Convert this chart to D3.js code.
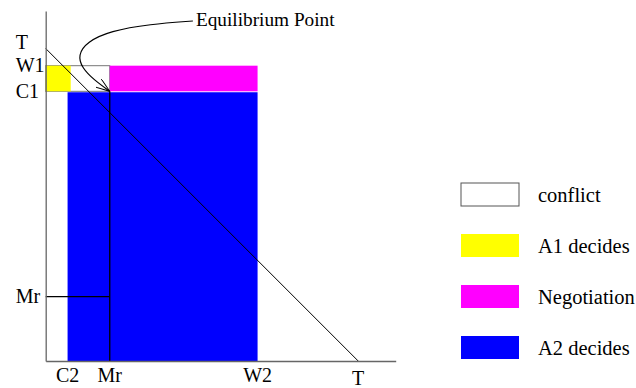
<!DOCTYPE html>
<html><head><meta charset="utf-8"><script src="https://cdn.jsdelivr.net/npm/d3@7"></script></head>
<body style="margin:0">
<svg></svg>
<script>

// levels on both axes (same units)
var T = 100, W1 = 94.5, C1 = 86.3, MrY = 20.6;
var C2 = 7, Mr = 20.5, W2 = 67.8;
var axisMax = 112;

var yTickValues = [T, W1, C1, MrY];
var yTickLabels = ["T", "W1", "C1", "Mr"];
var xTickValues = [C2, Mr, W2, T];
var xTickLabels = ["C2", "Mr", "W2", "T"];

// regions: [x0, x1, y0, y1]
var regionNames = ["conflict", "A1 decides", "Negotiation", "A2 decides"];
var regionColors = ["#fff", "#ffff00", "#ff00ff", "#0000ff"];
var regionBounds = [
  [0, Mr, C1, W1],
  [0, 8, C1, W1],
  [Mr, W2, C1, W1],
  [C2, W2, 0, C1 - 0.3]
];

// arrow from label to the equilibrium point (Mr, C1)
var arrowPts = [[47.1,108.8],[33.4,107.8],[20.6,105.6],[13.2,102.1],[10.3,97.9],[11.6,93.8],[15.5,89.9],[Mr,C1]];

var serif = "Liberation Serif";

var screen = { width:636, height:388 };
var margins = { top:11, left:45.7, bottom:27, right:240.3 };
var width = screen.width - margins.left - margins.right;
var height = screen.height - margins.top - margins.bottom;

var xScale = d3.scaleLinear().domain([0, axisMax]).range([margins.left, margins.left + width]);
var yScale = d3.scaleLinear().domain([0, axisMax]).range([margins.top + height, margins.top]);

var svg = d3.select("svg").attr("width", screen.width).attr("height", screen.height);
var plot = svg.append("g");

// regions
plot.selectAll("rect.region")
  .data(regionBounds)
  .enter()
  .append("rect")
  .attr("class", "region")
  .attr("x", function(d) { return xScale(d[0]); })
  .attr("width", function(d) { return xScale(d[1]) - xScale(d[0]); })
  .attr("y", function(d) { return yScale(d[3]); })
  .attr("height", function(d) { return yScale(d[2]) - yScale(d[3]); })
  .attr("fill", function(d, i) { return regionColors[i]; })
  .attr("stroke", function(d, i) { return i == 0 ? "#777" : "none"; })
  .attr("stroke-width", 1);

// diagonal T-T
plot.append("line")
  .attr("x1", xScale(0)).attr("y1", yScale(T))
  .attr("x2", xScale(T)).attr("y2", yScale(0))
  .attr("stroke", "#000").attr("stroke-width", 1);

// Mr guide lines
plot.append("line")
  .attr("x1", xScale(Mr)).attr("y1", yScale(C1))
  .attr("x2", xScale(Mr)).attr("y2", yScale(0))
  .attr("stroke", "#000").attr("stroke-width", 1.3);
plot.append("line")
  .attr("x1", xScale(0)).attr("y1", yScale(MrY))
  .attr("x2", xScale(Mr)).attr("y2", yScale(MrY))
  .attr("stroke", "#000").attr("stroke-width", 1.3);

// axes: lines from d3 axis, labels as plain text
var xAxis = d3.axisBottom(xScale).tickValues([]).tickSize(0).tickSizeOuter(0);
var yAxis = d3.axisLeft(yScale).tickValues([]).tickSize(0).tickSizeOuter(0);
[plot.append("g").attr("transform", "translate(0," + yScale(0) + ")").call(xAxis),
 plot.append("g").attr("transform", "translate(" + xScale(0) + ",0)").call(yAxis)
].forEach(function(g) {
  g.select(".domain").attr("stroke", "#666").attr("stroke-width", 1.3);
});

svg.selectAll("text.xlab")
  .data(xTickValues)
  .enter()
  .append("text")
  .attr("class", "xlab")
  .attr("x", function(d) { return xScale(d); })
  .attr("y", function(d) { return yScale(0) + (d == T ? 10 : 7); })
  .attr("dy", "0.71em")
  .attr("text-anchor", "middle")
  .attr("font-family", serif).attr("font-size", 20)
  .text(function(d, i) { return xTickLabels[i]; });

svg.selectAll("text.ylab")
  .data(yTickValues)
  .enter()
  .append("text")
  .attr("class", "ylab")
  .attr("x", xScale(0) - 30)
  .attr("y", function(d) { return yScale(d); })
  .attr("dy", function(d) { return d == T ? "0.02em" : "0.32em"; })
  .attr("font-family", serif).attr("font-size", 20)
  .text(function(d, i) { return yTickLabels[i]; });

// arrow
svg.append("defs").append("marker")
  .attr("id", "arrow")
  .attr("viewBox", "0 0 14 10")
  .attr("refX", 14).attr("refY", 5)
  .attr("markerWidth", 14).attr("markerHeight", 10)
  .attr("markerUnits", "userSpaceOnUse")
  .attr("orient", "auto")
  .append("path")
  .attr("d", "M0,0 L14,5 L0,10")
  .attr("fill", "none").attr("stroke", "#000").attr("stroke-width", 1);

var arrowLine = d3.line()
  .x(function(d) { return xScale(d[0]); })
  .y(function(d) { return yScale(d[1]); })
  .curve(d3.curveBasis);

plot.append("path")
  .attr("d", arrowLine(arrowPts))
  .attr("fill", "none").attr("stroke", "#000").attr("stroke-width", 1.2)
  .attr("marker-end", "url(#arrow)");

svg.append("text")
  .attr("x", xScale(arrowPts[0][0]) + 3)
  .attr("y", yScale(arrowPts[0][1]) + 5)
  .attr("font-family", serif)
  .attr("font-size", 19.3)
  .text("Equilibrium Point");

// legend
var legendY = d3.scaleLinear().domain([0, 1]).range([183, 234]);

svg.selectAll("rect.key")
  .data(regionNames)
  .enter()
  .append("rect")
  .attr("class", "key")
  .attr("x", 461).attr("y", function(d, i) { return legendY(i); })
  .attr("width", 58).attr("height", 23)
  .attr("fill", function(d, i) { return regionColors[i]; })
  .attr("stroke", function(d, i) { return i == 0 ? "#555" : "none"; });

svg.selectAll("text.key")
  .data(regionNames)
  .enter()
  .append("text")
  .attr("class", "key")
  .attr("x", 538).attr("y", function(d, i) { return legendY(i) + 18.5; })
  .attr("font-family", serif)
  .attr("font-size", 20.5)
  .text(function(d) { return d; });

</script>
</body>
</html>
